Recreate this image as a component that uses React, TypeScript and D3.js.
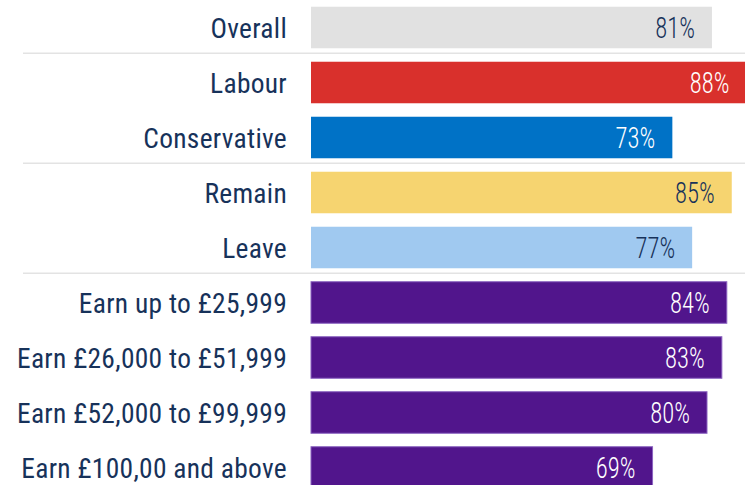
import React, { useEffect, useRef } from 'react';
import * as d3 from 'd3';

// Share of each group, in percent
const categories = [
  'Overall',
  'Labour',
  'Conservative',
  'Remain',
  'Leave',
  'Earn up to £25,999',
  'Earn £26,000 to £51,999',
  'Earn £52,000 to £99,999',
  'Earn £100,00 and above',
];
const values = [81, 88, 73, 85, 77, 84, 83, 80, 69];
const barColors = [
  '#e1e1e1', '#d9302c', '#0072c6', '#f6d470', '#a0c9f0',
  '#51158c', '#51158c', '#51158c', '#51158c',
];
const darkLabel = [true, false, false, true, true, false, false, false, false];
// groups are split by a thin rule before these rows
const dividersBefore = ['Labour', 'Remain', 'Earn up to £25,999'];

const NAVY = '#17325a';
const FONT = '"Roboto Condensed", "Liberation Sans Narrow", "DejaVu Sans Condensed", sans-serif';

const App = () => {
  const svgRef = useRef<SVGSVGElement>(null);

  useEffect(() => {
    const svg = d3.select(svgRef.current);
    svg.selectAll('*').remove();

    const width = 745;
    const data = categories.map((c, i) => ({ label: c, value: values[i], color: barColors[i], dark: darkLabel[i] }));

    const x = d3.scaleLinear().domain([0, 100]).range([311, 806]);
    const y = d3.scaleBand()
      .domain(categories)
      .range([0, 495])
      .paddingInner(0.245)
      .paddingOuter(0.1225);
    const mid = (d: string) => (y(d) as number) + y.bandwidth() / 2;

    // divider rules
    svg.append('g')
      .selectAll('line')
      .data(dividersBefore)
      .join('line')
      .attr('x1', 23)
      .attr('x2', width)
      .attr('y1', d => (y(d) as number) - 8.5)
      .attr('y2', d => (y(d) as number) - 8.5)
      .attr('stroke', '#e3e3e3')
      .attr('stroke-width', 1.5);

    // bars
    svg.append('g')
      .selectAll('rect')
      .data(data)
      .join('rect')
      .attr('x', x(0))
      .attr('y', d => y(d.label) as number)
      .attr('width', d => x(d.value) - x(0))
      .attr('height', y.bandwidth())
      .attr('fill', d => d.color)
      .attr('stroke', d => (d.color === '#51158c' ? '#8a62c0' : 'none'))
      .attr('stroke-width', 1);

    // category labels
    svg.append('g')
      .selectAll('text')
      .data(data)
      .join('text')
      .attr('transform', d => `translate(287,${mid(d.label)}) scale(0.98,1)`)
      .attr('dy', '0.36em')
      .attr('text-anchor', 'end')
      .attr('fill', NAVY)
      .style('font-family', FONT)
      .style('font-size', '28px')
      .style('letter-spacing', '0.3px')
      .text(d => d.label);

    // value labels inside the bar ends
    svg.append('g')
      .selectAll('text')
      .data(data)
      .join('text')
      .attr('transform', d => `translate(${x(d.value) - 17},${mid(d.label)}) scale(0.85,1)`)
      .attr('dy', '0.36em')
      .attr('text-anchor', 'end')
      .attr('fill', d => (d.dark ? NAVY : '#ffffff'))
      .style('font-family', FONT)
      .style('font-size', '29px')
      .style('font-weight', 300)
      .text(d => `${d.value}%`);
  }, []);

  return (
    <svg
      ref={svgRef}
      width="745"
      height="485"
      style={{ position: 'absolute', left: 0, top: 0, background: '#ffffff' }}
    ></svg>
  );
};

export default App;
